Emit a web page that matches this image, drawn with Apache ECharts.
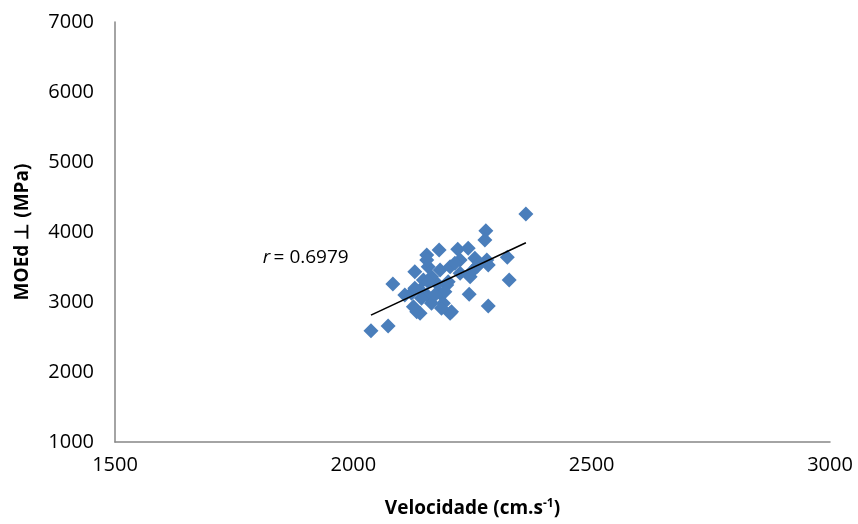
<!DOCTYPE html>
<html>
<head>
<meta charset="utf-8">
<script src="https://cdn.jsdelivr.net/npm/echarts@6/dist/echarts.min.js"></script>
<style>
  html, body { margin: 0; padding: 0; background: #fff; }
  #chart { width: 858px; height: 524px; }
</style>
</head>
<body>
<div id="chart"></div>
<script>
// Ultrasonic velocity (cm/s) vs. dynamic modulus perpendicular to grain (MPa)
const velocidade = [
  2362, 2278, 2276, 2323, 2327, 2283, 2243, 2219, 2241, 2180,
  2154, 2083, 2037, 2073, 2129, 2157, 2182, 2203, 2224, 2255,
  2280, 2283, 2245, 2224, 2147, 2196, 2122, 2154, 2182, 2126,
  2140, 2164, 2189, 2203, 2175, 2140, 2164, 2259, 2108, 2129,
  2157, 2199, 2192, 2171, 2143, 2133, 2206, 2185, 2248, 2262,
  2213, 2154
];
const moed = [
  4257, 4019, 3886, 3639, 3314, 2943, 3110, 3753, 3767, 3743,
  3671, 3257, 2590, 2657, 3433, 3504, 3457, 3504, 3600, 3624,
  3600, 3529, 3361, 3410, 3314, 3243, 3124, 3100, 3124, 2933,
  2839, 2981, 2981, 2839, 3267, 3171, 3361, 3504, 3100, 3196,
  3290, 3290, 3147, 3100, 3053, 2861, 2861, 2910, 3433, 3529,
  3553, 3600
];
const xTicks = [1500, 2000, 2500, 3000];
const yTicks = [1000, 2000, 3000, 4000, 5000, 6000, 7000];
const rLabel = '0.6979';

const points = velocidade.map((v, i) => [v, moed[i]]);

// least-squares fit over the observed range
const n = points.length;
const mx = velocidade.reduce((a, b) => a + b, 0) / n;
const my = moed.reduce((a, b) => a + b, 0) / n;
let sxy = 0, sxx = 0;
for (let i = 0; i < n; i++) {
  sxy += (velocidade[i] - mx) * (moed[i] - my);
  sxx += (velocidade[i] - mx) ** 2;
}
const slope = sxy / sxx;
const intercept = my - slope * mx;
const xMin = Math.min(...velocidade), xMax = Math.max(...velocidade);
const fit = [[xMin, intercept + slope * xMin], [xMax, intercept + slope * xMax]];

const font = '"Open Sans", "Liberation Sans", sans-serif';
const axisColor = '#868686';
const plain = v => String(v);

const chart = echarts.init(document.getElementById('chart'), null, { renderer: 'canvas' });
chart.setOption({
  animation: false,
  backgroundColor: '#fff',
  grid: { left: 115, right: 28, top: 22, bottom: 82, containLabel: false },
  xAxis: {
    type: 'value',
    min: xTicks[0], max: xTicks[xTicks.length - 1], interval: 500,
    axisLine: { show: true, lineStyle: { color: axisColor, width: 1.5 } },
    axisTick: { show: false },
    splitLine: { show: false },
    axisLabel: { color: '#000', fontFamily: font, fontSize: 20, margin: 13, formatter: plain },
    name: '{t|Velocidade (cm.s}{s|-1}{t|)}',
    nameLocation: 'middle',
    nameGap: 56,
    nameTextStyle: {
      rich: {
        t: { fontFamily: font, fontSize: 19, fontWeight: 'bold', color: '#000' },
        s: { fontFamily: font, fontSize: 12, fontWeight: 'bold', color: '#000', verticalAlign: 'top', padding: [0, 0, 10, 0] }
      }
    }
  },
  yAxis: {
    type: 'value',
    min: yTicks[0], max: yTicks[yTicks.length - 1], interval: 1000,
    axisLine: { show: true, lineStyle: { color: axisColor, width: 1.5 } },
    axisTick: { show: false },
    splitLine: { show: false },
    axisLabel: { color: '#000', fontFamily: font, fontSize: 20, margin: 21, formatter: plain },
    name: 'MOEd \u22A5 (MPa)',
    nameLocation: 'middle',
    nameGap: 83,
    nameRotate: 90,
    nameTextStyle: { fontFamily: font, fontSize: 19, fontWeight: 'bold', color: '#000' }
  },
  series: [
    {
      type: 'scatter',
      data: points,
      symbol: 'diamond',
      symbolSize: 15,
      itemStyle: { color: '#4A7EBB', opacity: 1 },
      z: 2
    },
    {
      type: 'line',
      data: fit,
      showSymbol: false,
      symbol: 'none',
      lineStyle: { color: '#000', width: 1.6 },
      z: 3,
      markPoint: {
        symbol: 'circle',
        symbolSize: 0,
        data: [{ coord: [1810, 3629] }],
        label: {
          show: true,
          position: 'right',
          distance: 0,
          formatter: '{i|r} {t|= ' + rLabel + '}',
          rich: {
            i: { fontFamily: font, fontSize: 19, fontStyle: 'italic', color: '#000' },
            t: { fontFamily: font, fontSize: 19, color: '#000' }
          }
        }
      }
    }
  ]
});
</script>
</body>
</html>
